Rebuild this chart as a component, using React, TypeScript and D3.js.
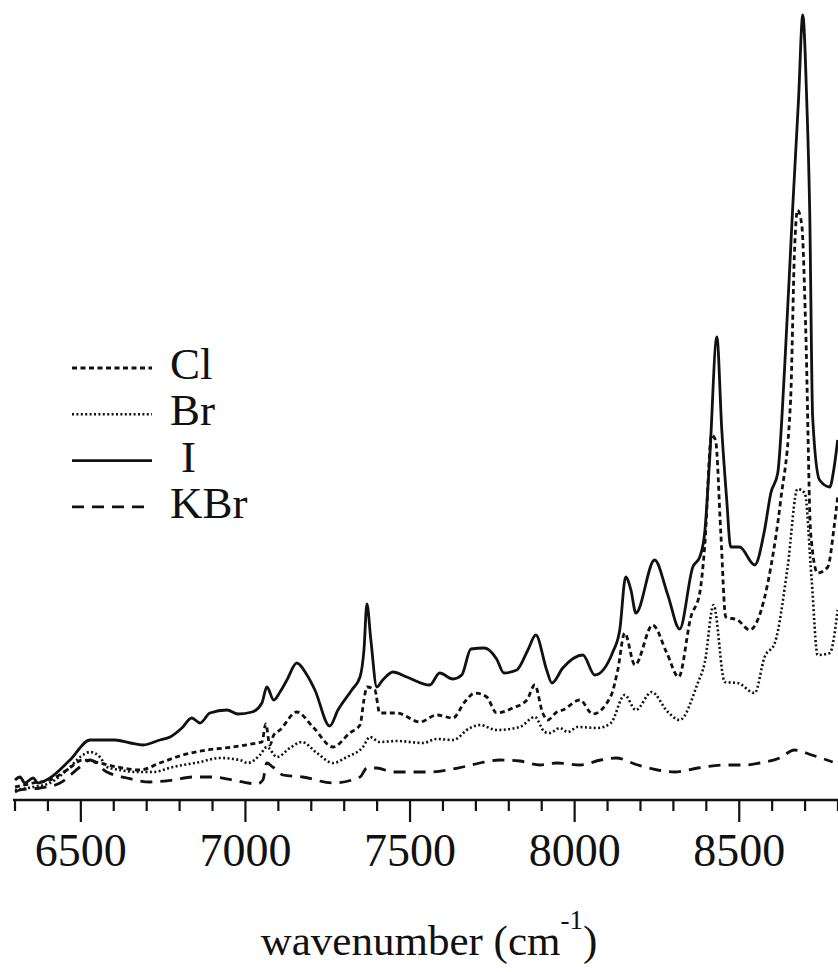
import React from "react";
import * as d3 from "d3";

// Overtone spectra, [wavenumber (cm-1), intensity (arb. units)]
const seriesCl: [number, number][] = [
  [6300, 0.13], [6355, 0.17], [6406, 0.2], [6458, 0.3], [6506, 0.4], [6543, 0.38],
  [6558, 0.37], [6610, 0.33], [6680, 0.3], [6740, 0.37], [6810, 0.45], [6883, 0.5],
  [6962, 0.53], [7035, 0.57], [7050, 0.58], [7062, 0.76], [7074, 0.55], [7086, 0.65],
  [7105, 0.7], [7156, 0.88], [7205, 0.73], [7266, 0.53], [7317, 0.67], [7348, 0.75],
  [7360, 1.0], [7369, 1.13], [7393, 1.1], [7408, 0.87], [7460, 0.87], [7530, 0.78],
  [7581, 0.85], [7630, 0.82], [7666, 0.98], [7697, 1.07], [7733, 1.03], [7763, 0.87],
  [7812, 0.92], [7855, 1.0], [7879, 1.15], [7903, 0.87], [7918, 0.8], [7946, 0.88],
  [7964, 0.9], [8016, 1.0], [8055, 0.86], [8110, 1.04], [8131, 1.3], [8152, 1.67],
  [8183, 1.35], [8237, 1.75], [8280, 1.47], [8316, 1.23], [8353, 1.83], [8380, 2.07],
  [8395, 2.53], [8416, 3.65], [8428, 3.6], [8444, 2.67], [8459, 1.83], [8495, 1.8],
  [8532, 1.7], [8556, 1.8], [8596, 2.33], [8626, 3.0], [8656, 4.0], [8668, 5.5],
  [8677, 5.9], [8690, 5.75], [8702, 4.7], [8717, 2.67], [8738, 2.27], [8769, 2.33],
  [8787, 2.7], [8799, 3.03],
];

const seriesBr: [number, number][] = [
  [6300, 0.1], [6355, 0.13], [6406, 0.17], [6458, 0.3], [6506, 0.45], [6528, 0.48],
  [6558, 0.43], [6579, 0.33], [6619, 0.3], [6670, 0.28], [6719, 0.28], [6780, 0.33],
  [6862, 0.38], [6922, 0.42], [6983, 0.4], [7007, 0.37], [7044, 0.45], [7065, 0.53],
  [7096, 0.43], [7135, 0.52], [7171, 0.58], [7217, 0.47], [7266, 0.37], [7308, 0.43],
  [7357, 0.53], [7378, 0.63], [7408, 0.58], [7460, 0.59], [7539, 0.57], [7581, 0.61],
  [7630, 0.6], [7682, 0.72], [7712, 0.75], [7763, 0.7], [7833, 0.73], [7879, 0.83],
  [7909, 0.68], [7924, 0.67], [7955, 0.72], [7979, 0.68], [8009, 0.73], [8070, 0.72],
  [8110, 0.77], [8152, 1.05], [8186, 0.9], [8234, 1.08], [8283, 0.88], [8319, 0.8],
  [8374, 1.17], [8395, 1.37], [8422, 1.95], [8456, 1.18], [8495, 1.17], [8547, 1.07],
  [8577, 1.43], [8608, 1.57], [8647, 2.33], [8677, 3.11], [8699, 3.07], [8720, 2.2],
  [8738, 1.45], [8775, 1.47], [8799, 1.9],
];

const seriesI: [number, number][] = [
  [6300, 0.2], [6315, 0.23], [6330, 0.17], [6355, 0.22], [6370, 0.17], [6406, 0.22],
  [6467, 0.4], [6528, 0.6], [6558, 0.6], [6604, 0.6], [6650, 0.57], [6689, 0.55],
  [6740, 0.6], [6771, 0.63], [6807, 0.72], [6837, 0.82], [6862, 0.77], [6892, 0.87],
  [6944, 0.9], [6977, 0.86], [7020, 0.88], [7050, 0.97], [7065, 1.13], [7086, 1.0],
  [7105, 1.08], [7126, 1.2], [7156, 1.37], [7187, 1.25], [7211, 1.1], [7256, 0.74],
  [7281, 0.9], [7323, 1.1], [7348, 1.23], [7360, 1.5], [7369, 1.96], [7381, 1.6],
  [7399, 1.13], [7417, 1.2], [7448, 1.28], [7490, 1.23], [7560, 1.15], [7590, 1.27],
  [7630, 1.21], [7657, 1.25], [7685, 1.51], [7726, 1.52], [7763, 1.41], [7785, 1.27],
  [7824, 1.3], [7858, 1.5], [7882, 1.65], [7915, 1.3], [7931, 1.17], [7964, 1.32],
  [8025, 1.45], [8061, 1.25], [8116, 1.48], [8137, 1.7], [8155, 2.23], [8171, 2.1],
  [8186, 1.87], [8243, 2.4], [8283, 2.05], [8319, 1.71], [8359, 2.33], [8380, 2.43],
  [8395, 2.67], [8410, 3.4], [8432, 4.63], [8447, 3.7], [8462, 3.0], [8474, 2.53],
  [8501, 2.53], [8547, 2.35], [8577, 2.7], [8596, 3.07], [8617, 3.27], [8638, 4.33],
  [8662, 5.9], [8680, 7.0], [8693, 7.85], [8705, 7.0], [8714, 5.9], [8723, 3.83],
  [8744, 3.2], [8775, 3.13], [8787, 3.3], [8799, 3.6],
];

const seriesKBr: [number, number][] = [
  [6300, 0.08], [6315, 0.1], [6376, 0.12], [6437, 0.17], [6497, 0.33], [6528, 0.4],
  [6579, 0.28], [6640, 0.22], [6710, 0.18], [6780, 0.2], [6840, 0.23], [6901, 0.23],
  [6962, 0.2], [7035, 0.16], [7053, 0.2], [7065, 0.37], [7083, 0.33], [7114, 0.25],
  [7174, 0.23], [7266, 0.17], [7348, 0.23], [7369, 0.32], [7399, 0.32], [7448, 0.28],
  [7560, 0.28], [7660, 0.33], [7712, 0.37], [7773, 0.4], [7833, 0.39], [7894, 0.35],
  [7946, 0.37], [8016, 0.35], [8079, 0.4], [8125, 0.42], [8192, 0.35], [8252, 0.3],
  [8304, 0.28], [8374, 0.32], [8456, 0.35], [8517, 0.35], [8562, 0.37], [8623, 0.42],
  [8668, 0.5], [8720, 0.45], [8784, 0.38],
];

const legendLabels = ["Cl", "Br", "I", "KBr"];
const majorTicks = [6500, 7000, 7500, 8000, 8500];
const xDomain: [number, number] = [6300, 8800];
const yDomain: [number, number] = [0, 8];

const FONT = "'Liberation Serif', 'Times New Roman', serif";

const styles = [
  { dash: "5,3.5", width: 2.8 },
  { dash: "2,2.4", width: 2.6 },
  { dash: "", width: 2.8 },
  { dash: "12,8", width: 2.8 },
];

export default function App() {
  const width = 838;
  const height = 972;
  const x = d3.scaleLinear().domain(xDomain).range([15, 838]);
  const y = d3.scaleLinear().domain(yDomain).range([800, 0]);

  const line = d3
    .line<[number, number]>()
    .x((d) => x(d[0]))
    .y((d) => y(d[1]))
    .curve(d3.curveMonotoneX);

  const all = [seriesCl, seriesBr, seriesI, seriesKBr];
  const ticks = d3.range(xDomain[0], xDomain[1] + 1, 100);
  const axisY = y(0);

  return (
    <svg
      width={width}
      height={height}
      style={{ position: "absolute", left: 0, top: 0, background: "#fff" }}
      fontFamily={FONT}
    >
      <rect width={width} height={height} fill="#fff" />
      <defs>
        <clipPath id="plot">
          <rect x={0} y={0} width={width} height={axisY} />
        </clipPath>
      </defs>

      <g clipPath="url(#plot)">
        {all.map((s, i) => (
          <path
            key={legendLabels[i]}
            d={line(s) ?? ""}
            fill="none"
            stroke="#111"
            strokeWidth={styles[i].width}
            strokeDasharray={styles[i].dash || undefined}
            strokeLinejoin="round"
          />
        ))}
      </g>

      {/* x axis */}
      <line x1={13} x2={838} y1={axisY} y2={axisY} stroke="#111" strokeWidth={2.4} />
      {ticks.map((t) => {
        const major = t % 500 === 0;
        return (
          <line
            key={t}
            x1={x(t)}
            x2={x(t)}
            y1={axisY}
            y2={axisY + (major ? 22 : 11)}
            stroke="#111"
            strokeWidth={2.2}
          />
        );
      })}
      {majorTicks.map((t) => (
        <text key={t} x={x(t)} y={866} fontSize={46} textAnchor="middle" fill="#111">
          {t}
        </text>
      ))}

      <text x={429} y={955} fontSize={43} textAnchor="middle" fill="#111">
        wavenumber (cm
        <tspan fontSize={27} dy={-26}>-1</tspan>
        <tspan dy={26}>)</tspan>
      </text>

      {/* legend */}
      {legendLabels.map((lab, i) => {
        const ly = 368 + i * 46.3;
        return (
          <g key={lab}>
            <line
              x1={72}
              x2={152}
              y1={ly}
              y2={ly}
              stroke="#111"
              strokeWidth={styles[i].width}
              strokeDasharray={styles[i].dash || undefined}
            />
            <text x={lab === "I" ? 181 : 170} y={ly + 11} fontSize={45} fill="#111">
              {lab}
            </text>
          </g>
        );
      })}
    </svg>
  );
}
